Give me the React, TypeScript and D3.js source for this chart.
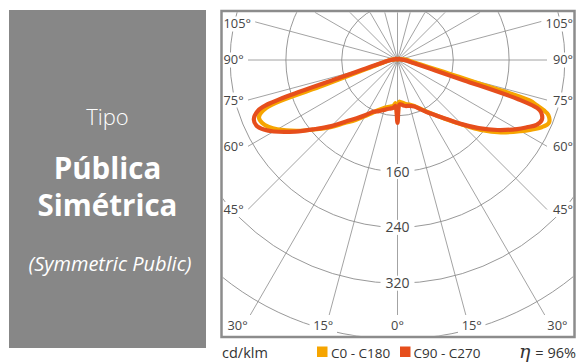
import React from 'react';
import * as d3 from 'd3';

// gamma angles (degrees from nadir)
const ANGLES = [0, 2.5, 5, 7.5, 10, 15, 20, 25, 30, 35, 40, 45, 50, 55, 60, 62.5, 65, 67.5, 70, 71, 72, 73, 74, 75, 77.5, 80, 85, 90, 100, 120, 140, 160, 180];
// C0 - C180 plane (orange)
const C0 = [85, 60, 61, 62, 64, 66, 70, 77, 86, 97, 112, 131, 156, 181, 204, 216, 228, 235, 230, 222, 210, 198, 118, 80, 44, 30, 19, 14, 6, 3, 2, 1, 1];
const C180 = [85, 62, 66, 67, 68, 71, 76, 83, 93, 105, 118, 136, 155, 177, 199, 208, 214, 215, 200, 113, 75, 57, 45, 38, 27, 21, 14, 11, 5, 3, 2, 1, 1];
// C90 - C270 plane (red)
const C90 = [90, 64, 64, 66, 67, 68, 71, 78, 87, 97, 111, 130, 152, 175, 198, 209, 220, 224, 219, 212, 182, 100, 66, 50, 31, 22, 14, 10, 5, 3, 2, 1, 1];
const C270 = [90, 66, 69, 70, 71, 74, 78, 82, 91, 102, 115, 134, 154, 179, 205, 216, 223, 223, 213, 200, 150, 87, 61, 47, 30, 22, 14, 10, 5, 3, 2, 1, 1];

const RING_VALUES = [80, 160, 240, 320, 400];
const RING_LABELS = [160, 240, 320];
const SPOKE_ANGLES = d3.range(0, 360, 15);
const ANGLE_LABELS = [0, 15, 30, 45, 60, 75, 90, 105];
const SERIES_NAMES = ['C0 - C180', 'C90 - C270'];
const UNIT = 'cd/klm';
const EFFICIENCY = '96%';
const TITLE_SMALL = 'Tipo';
const TITLE_LINES = ['Pública', 'Simétrica'];
const SUBTITLE = '(Symmetric Public)';

const W = 579, H = 362;
const CX = 397.5, CY = 60;
const FRAME = { x: 221.5, y: 11, w: 353, h: 326 };
const INSET = { left: 248, right: 547, bottom: 315, top: 12.3 };
const ORANGE = '#F6A500';
const RED = '#E64E1C';
const GRID = '#8c8c8c';
const LABEL = '#454545';
const FONT = "'Open Sans', 'Noto Sans', sans-serif";

const rScale = d3.scaleLinear().domain([0, 400]).range([0, 279]);
const rad = (d: number) => (d * Math.PI) / 180;

function seriesPath(right: number[], left: number[]) {
  const pts: [number, number][] = [];
  ANGLES.forEach((g, i) => pts.push([Math.PI - rad(g), rScale(right[i])]));
  for (let i = ANGLES.length - 2; i >= 1; i--) {
    pts.push([Math.PI + rad(ANGLES[i]), rScale(left[i])]);
  }
  const line = d3.lineRadial<[number, number]>()
    .angle(d => d[0])
    .radius(d => d[1])
    .curve(d3.curveCatmullRomClosed.alpha(0.5));
  return line(pts) || '';
}

function spokeEnd(theta: number): [number, number] {
  const dx = Math.sin(rad(theta));
  const dy = Math.cos(rad(theta));
  let t = Infinity;
  if (dx < -1e-9) t = Math.min(t, (INSET.left - CX) / dx);
  if (dx > 1e-9) t = Math.min(t, (INSET.right - CX) / dx);
  if (dy > 1e-9) t = Math.min(t, (INSET.bottom - CY) / dy);
  if (dy < -1e-9) t = Math.min(t, (INSET.top - CY) / dy);
  return [CX + dx * t, CY + dy * t];
}

export default function App() {
  const angleLabels: { x: number; y: number; text: string; anchor: string }[] = [];
  ANGLE_LABELS.forEach(g => {
    const sides = g === 0 ? [1] : [-1, 1];
    sides.forEach(s => {
      if (g <= 30) {
        angleLabels.push({ x: CX + s * (FRAME.y + FRAME.h - CY) * Math.tan(rad(g)), y: 326, text: `${g}°`, anchor: 'middle' });
      } else {
        const y = Math.max(CY + (CX - INSET.left) / Math.tan(rad(g)), 24);
        angleLabels.push({ x: s < 0 ? 223.5 : 573, y, text: `${g}°`, anchor: s < 0 ? 'start' : 'end' });
      }
    });
  });

  const labelFs = 12.8;
  const tw = (t: string, fs: number) => t.length * fs * 0.56;

  return (
    <svg width={W} height={H} style={{ position: 'absolute', left: 0, top: 0 }} fontFamily={FONT}>
      <defs>
        <clipPath id="frameClip">
          <rect x={FRAME.x + 1.25} y={FRAME.y + 1.25} width={FRAME.w - 2.5} height={FRAME.h - 2.5} />
        </clipPath>
      </defs>
      {/* left panel */}
      <rect x={9} y={10} width={197} height={338} fill="#878787" />
      <text x={107.5} y={125} textAnchor="middle" fill="#fff" fontSize={22} fontWeight={300}>{TITLE_SMALL}</text>
      {TITLE_LINES.map((t, i) => (
        <text key={t} x={107.5} y={178.5 + i * 37} textAnchor="middle" fill="#fff" fontSize={29.5} fontWeight={700}>{t}</text>
      ))}
      <text x={110} y={270.5} textAnchor="middle" fill="#fff" fontSize={20} fontStyle="italic">{SUBTITLE}</text>

      {/* polar diagram */}
      <rect x={FRAME.x} y={FRAME.y} width={FRAME.w} height={FRAME.h} fill="#fff" />
      <g clipPath="url(#frameClip)">
        {RING_VALUES.map(v => (
          <circle key={v} cx={CX} cy={CY} r={rScale(v)} fill="none" stroke={GRID} strokeWidth={0.9} />
        ))}
        {SPOKE_ANGLES.map(a => {
          const [x2, y2] = spokeEnd(a);
          return <line key={a} x1={CX} y1={CY} x2={x2} y2={y2} stroke={GRID} strokeWidth={0.8} />;
        })}
        {RING_LABELS.map(v => (
          <g key={v}>
            <rect x={CX - 17} y={CY + rScale(v) - 7.5} width={34} height={15} fill="#fff" />
            <text x={CX} y={CY + rScale(v)} dy="0.35em" textAnchor="middle" fontSize={14} fill={LABEL}>{v}</text>
          </g>
        ))}
        {angleLabels.map((l, i) => {
          const w = tw(l.text, labelFs);
          const x0 = l.anchor === 'start' ? l.x : l.anchor === 'end' ? l.x - w : l.x - w / 2;
          return (
            <g key={i}>
              <rect x={x0 - 3} y={l.y - 7.5} width={w + 6} height={15} fill="#fff" />
              <text x={l.x} y={l.y} dy="0.35em" textAnchor={l.anchor} fontSize={labelFs} fill={LABEL}>{l.text}</text>
            </g>
          );
        })}
        <g transform={`translate(${CX},${CY})`} fill="none" strokeLinejoin="round" strokeLinecap="round">
          <path d={seriesPath(C0, C180)} stroke={ORANGE} strokeWidth={4.2} />
          <path d={seriesPath(C90, C270)} stroke={RED} strokeWidth={4.2} />
        </g>
      </g>
      <rect x={FRAME.x} y={FRAME.y} width={FRAME.w} height={FRAME.h} fill="none" stroke={GRID} strokeWidth={2.5} />

      {/* legend */}
      <text x={222} y={357.5} fontSize={14.5} fill="#333">{UNIT}</text>
      <rect x={317} y={346.5} width={10.5} height={10.5} fill={ORANGE} />
      <text x={331} y={357.5} fontSize={13.5} fill="#333">{SERIES_NAMES[0]}</text>
      <rect x={400} y={346.5} width={10.5} height={10.5} fill={RED} />
      <text x={413.5} y={357.5} fontSize={13.5} fill="#333">{SERIES_NAMES[1]}</text>
      <text x={576} y={357.5} textAnchor="end" fontSize={14.5} fill="#333">
        <tspan fontStyle="italic" fontSize={19} fontFamily="'DejaVu Serif', serif">η</tspan>
        <tspan dx={5}>= {EFFICIENCY}</tspan>
      </text>
    </svg>
  );
}
